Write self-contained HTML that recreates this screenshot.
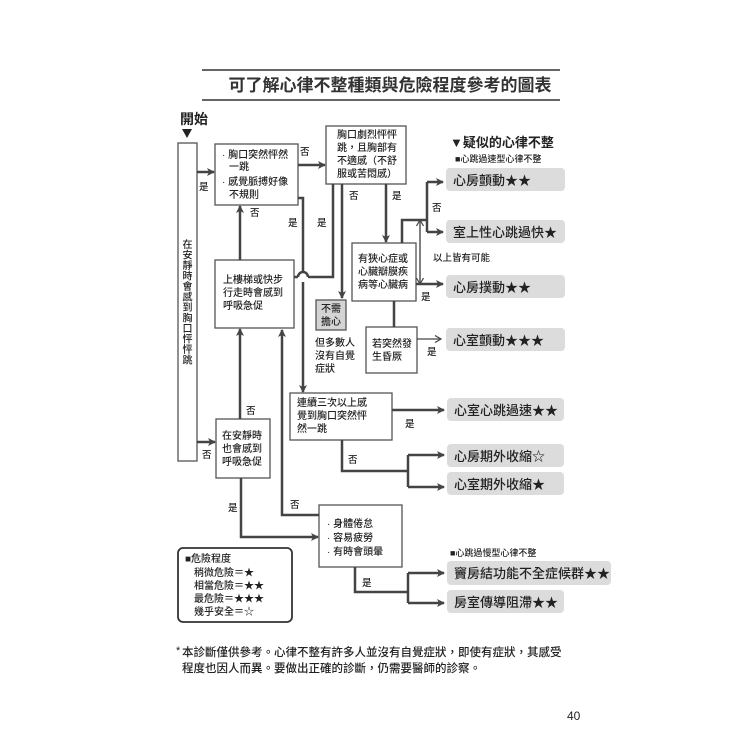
<!DOCTYPE html>
<html><head><meta charset="utf-8"><style>
html,body{margin:0;padding:0;background:#fff;}
svg{display:block;}
text{font-family:"Liberation Sans","Noto Sans CJK TC",sans-serif;fill:#222;}
.b{font-size:10px;font-weight:500;}
.l{font-size:9.5px;font-weight:500;}
.r{font-size:13px;font-weight:500;fill:#111;}
</style></head><body>
<svg width="750" height="750" viewBox="0 0 750 750" xmlns="http://www.w3.org/2000/svg">
<defs>
<marker id="a" markerWidth="8" markerHeight="8" refX="7" refY="4" orient="auto" markerUnits="userSpaceOnUse">
<path d="M0,0 L8,4 L0,8 L2,4 Z" fill="#444"/></marker>
<marker id="t" markerWidth="8" markerHeight="8" refX="7" refY="4" orient="auto" markerUnits="userSpaceOnUse">
<path d="M1,0.5 L7,4 L1,7.5" fill="none" stroke="#444" stroke-width="1.2"/></marker>
</defs>
<!-- title -->
<line x1="202" y1="70" x2="560" y2="70" stroke="#666" stroke-width="2"/>
<line x1="202" y1="100" x2="560" y2="100" stroke="#666" stroke-width="2"/>
<text x="390" y="91" font-size="17" text-anchor="middle" font-weight="bold" style="fill:#333">可了解心律不整種類與危險程度參考的圖表</text>

<text x="180" y="124" font-size="14" font-weight="bold">開始</text>
<path d="M182,129 L192,129 L187,138 Z" fill="#222"/>

<g fill="#fff" stroke="#555" stroke-width="1.3">
<rect x="178" y="143" width="19" height="318"/>
<rect x="215" y="144" width="83" height="61"/>
<rect x="326" y="126" width="80" height="58"/>
<rect x="215" y="260" width="79" height="68"/>
<rect x="352" y="243" width="64" height="58"/>
<rect x="366" y="327" width="51" height="46"/>
<rect x="316" y="300" width="30" height="30" fill="#d4d4d4"/>
<rect x="290" y="393" width="102" height="47"/>
<rect x="216" y="419" width="54" height="59"/>
<rect x="319" y="505" width="83" height="62"/>
<rect x="178" y="548" width="114" height="74" rx="5" stroke="#333" stroke-width="1.8"/>
</g>

<!-- vertical text -->
<g font-size="10" text-anchor="middle" font-weight="500">
<text x="187.5" y="248">在</text><text x="187.5" y="258.5">安</text><text x="187.5" y="269">靜</text><text x="187.5" y="279.5">時</text><text x="187.5" y="290">會</text><text x="187.5" y="300.5">感</text><text x="187.5" y="311">到</text><text x="187.5" y="321.5">胸</text><text x="187.5" y="332">口</text><text x="187.5" y="342.5">怦</text><text x="187.5" y="353">怦</text><text x="187.5" y="363.5">跳</text>
</g>

<!-- box text -->
<g class="b">
<text x="222" y="158">· 胸口突然怦然</text><text x="229" y="170">一跳</text><text x="222" y="185">· 感覺脈搏好像</text><text x="229" y="198">不規則</text>
<text x="337" y="138">胸口劇烈怦怦</text><text x="337" y="151">跳，且胸部有</text><text x="337" y="164">不適感（不舒</text><text x="337" y="177">服或苦悶感）</text>
<text x="223" y="283">上樓梯或快步</text><text x="223" y="296">行走時會感到</text><text x="223" y="309">呼吸急促</text>
<text x="358" y="262">有狹心症或</text><text x="358" y="275">心臟瓣膜疾</text><text x="358" y="288">病等心臟病</text>
<text x="372" y="347">若突然發</text><text x="372" y="360">生昏厥</text>
<text x="321" y="312">不需</text><text x="321" y="325">擔心</text>
<text x="315" y="346">但多數人</text><text x="315" y="359">沒有自覺</text><text x="315" y="372">症狀</text>
<text x="297" y="406">連續三次以上感</text><text x="297" y="419">覺到胸口突然怦</text><text x="297" y="432">然一跳</text>
<text x="222" y="439">在安靜時</text><text x="222" y="452">也會感到</text><text x="222" y="465">呼吸急促</text>
<text x="327" y="527">· 身體倦怠</text><text x="327" y="541">· 容易疲勞</text><text x="327" y="555">· 有時會頭暈</text>
<text x="185" y="562">■危險程度</text><text x="194" y="576">稍微危險＝★</text><text x="194" y="589">相當危險＝★★</text><text x="194" y="602">最危險＝★★★</text><text x="194" y="615">幾乎安全＝☆</text>
</g>

<!-- labels -->
<g class="l">
<text x="199" y="190">是</text><text x="300" y="155">否</text><text x="250" y="216">否</text>
<text x="288" y="226">是</text><text x="317" y="226">是</text>
<text x="349" y="199">否</text><text x="392" y="199">是</text>
<text x="432" y="211">否</text><text x="433" y="261">以上皆有可能</text>
<text x="421" y="300">是</text><text x="427" y="355">是</text>
<text x="405" y="427">是</text><text x="348" y="463">否</text>
<text x="246" y="414">否</text><text x="202" y="458">否</text>
<text x="290" y="508">否</text><text x="228" y="511">是</text>
<text x="362" y="586">是</text>
</g>

<!-- connectors -->
<g fill="none" stroke="#444" stroke-width="2.5">
<line x1="197" y1="172" x2="214" y2="172" marker-end="url(#a)"/>
<line x1="298" y1="165" x2="325" y2="165" marker-end="url(#a)"/>
<line x1="240" y1="260" x2="240" y2="206" marker-end="url(#a)"/>
<polyline points="298,198 303,198 303,272"/>
<path d="M303,282 L303,392" marker-end="url(#a)"/>
<path d="M298,277 A5,5 0 0 1 308,277"/>
<polyline points="294,277 298,277"/><polyline points="308,277 333,277 333,184"/>
<line x1="342" y1="184" x2="342" y2="298" marker-end="url(#a)"/>
<line x1="386" y1="184" x2="386" y2="242" marker-end="url(#a)"/>
<polyline points="402,243 402,220 427,220"/>
<polyline points="427,182 427,232"/>
<line x1="427" y1="182" x2="443" y2="182" marker-end="url(#a)"/>
<line x1="427" y1="232" x2="443" y2="232" marker-end="url(#a)"/>
<line x1="416" y1="284" x2="443" y2="284" marker-end="url(#a)"/>
<line x1="394" y1="301" x2="394" y2="327"/>
<line x1="392" y1="410" x2="444" y2="410" marker-end="url(#a)"/>
<polyline points="342,440 342,471 408,471"/>
<polyline points="408,455 408,487"/>
<line x1="408" y1="455" x2="444" y2="455" marker-end="url(#a)"/>
<line x1="408" y1="487" x2="444" y2="487" marker-end="url(#a)"/>
<line x1="197" y1="442" x2="215" y2="442" marker-end="url(#a)"/>
<line x1="240" y1="419" x2="240" y2="329" marker-end="url(#a)"/>
<polyline points="319,515 282,515 282,330" marker-end="url(#a)"/>
<polyline points="241,478 241,537 318,537" marker-end="url(#a)"/>
<polyline points="355,567 355,592 408,592"/>
<polyline points="408,573 408,603"/>
<line x1="408" y1="573" x2="444" y2="573" marker-end="url(#a)"/>
<line x1="408" y1="603" x2="444" y2="603" marker-end="url(#a)"/>
</g>
<g fill="none" stroke="#444" stroke-width="1.2">
<line x1="417" y1="339" x2="441" y2="339" marker-end="url(#t)"/>
<line x1="420" y1="220" x2="420" y2="284" marker-end="url(#t)"/>
<line x1="420" y1="284" x2="420" y2="220" marker-end="url(#t)"/>
</g>

<!-- right header -->
<text x="450" y="147" font-size="13" font-weight="bold">▼疑似的心律不整</text>
<text x="455" y="162" font-size="9" font-weight="500">■心跳過速型心律不整</text>
<text x="450" y="556" font-size="9" font-weight="500">■心跳過慢型心律不整</text>

<!-- result boxes -->
<g fill="#dcdcdc">
<rect x="446" y="168" width="119" height="23" rx="4"/>
<rect x="446" y="220" width="119" height="23" rx="4"/>
<rect x="446" y="275" width="119" height="23" rx="4"/>
<rect x="446" y="328" width="119" height="23" rx="4"/>
<rect x="447" y="398" width="117" height="23" rx="4"/>
<rect x="447" y="444" width="117" height="23" rx="4"/>
<rect x="447" y="472" width="117" height="23" rx="4"/>
<rect x="447" y="561" width="164" height="24" rx="4"/>
<rect x="447" y="590" width="117" height="23" rx="4"/>
</g>
<g class="r">
<text x="453" y="185">心房顫動★★</text>
<text x="453" y="237">室上性心跳過快★</text>
<text x="453" y="292">心房撲動★★</text>
<text x="453" y="345">心室顫動★★★</text>
<text x="454" y="415">心室心跳過速★★</text>
<text x="454" y="461">心房期外收縮☆</text>
<text x="454" y="489">心室期外收縮★</text>
<text x="454" y="578">竇房結功能不全症候群★★</text>
<text x="454" y="607">房室傳導阻滯★★</text>
</g>

<!-- footnote -->
<text x="176" y="654" font-size="11">*</text>
<text x="182" y="656" font-size="11.5" font-weight="500">本診斷僅供參考。心律不整有許多人並沒有自覺症狀，即使有症狀，其感受</text>
<text x="182" y="672" font-size="11.5" font-weight="500">程度也因人而異。要做出正確的診斷，仍需要醫師的診察。</text>
<text x="567" y="720" font-size="12">40</text>
</svg>
</body></html>
